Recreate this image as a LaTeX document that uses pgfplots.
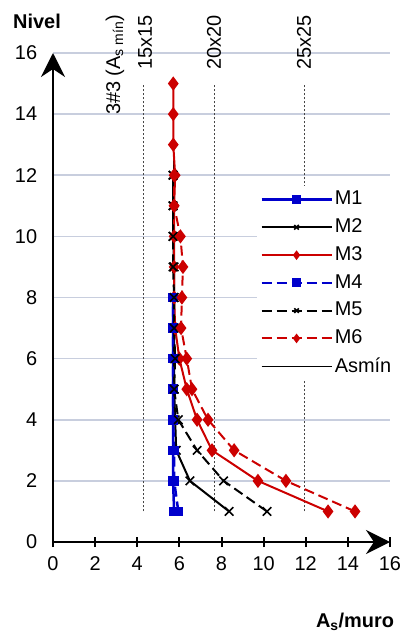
\documentclass[border=0pt]{standalone}
\usepackage{fontspec}
\setmainfont{Liberation Sans}
\usepackage{pgfplots}
\pgfplotsset{compat=1.18}
\usetikzlibrary{arrows.meta}
\definecolor{mblue}{RGB}{0,0,204}
\definecolor{mred}{RGB}{204,0,0}
\definecolor{gridc}{RGB}{200,206,222}
\definecolor{refc}{RGB}{70,70,70}
\begin{document}
\fontsize{20}{23}\selectfont
\begin{tikzpicture}
\path[use as bounding box] (-53bp,-99bp) rectangle (351bp,542bp);
\begin{axis}[
  at={(0,0)}, anchor=south west,
  scale only axis, width=337bp, height=489bp,
  xmin=0, xmax=16, ymin=0, ymax=16,
  xtick={0,2,...,16}, ytick={0,2,...,16},
  axis x line=bottom, axis y line=left,
  axis line style={line width=2.5bp,-{Stealth[length=24bp,width=24bp,inset=8bp]}},
  xtick align=center, major tick length=10bp,
  xtick style={line width=2bp,black},
  ytick style={draw=none},
  ymajorgrids, grid style={gridc,line width=1.5bp},
  tick label style={font=\fontsize{20}{23}\selectfont},
  yticklabel style={xshift=-4bp},
  xticklabel style={yshift=-3bp},
  /pgf/number format/assume math mode=true,
  clip=false,
  legend style={at={(axis cs:9.69,11.65)}, anchor=north west, fill=white, draw=none,
    font=\fontsize{20}{23}\selectfont, row sep=7bp, inner sep=3bp},
  legend cell align=left,
  legend image code/.code={\draw[mark repeat=2,mark phase=2,#1,mark size=3.2bp] plot coordinates {(0bp,0bp)(35bp,0bp)(70bp,0bp)};},
]
% Asmin (behind)
\addplot[black, line width=0.8bp, forget plot] coordinates {(5.7,1)(5.7,15)};
% reference dashed lines
\addplot[refc, line width=0.8bp, dash pattern=on 2bp off 2bp, forget plot] coordinates {(4.27,1)(4.27,15)};
\addplot[refc, line width=0.8bp, dash pattern=on 2bp off 2bp, forget plot] coordinates {(7.64,1)(7.64,15)};
\addplot[refc, line width=0.8bp, dash pattern=on 2bp off 2bp, forget plot] coordinates {(11.92,1)(11.92,15)};

\addplot[mblue, line width=2.5bp, mark=square*, mark size=3.5bp, mark options={solid}] coordinates {
 (5.75,1)(5.7,2)(5.7,3)(5.7,4)(5.7,5)(5.7,6)(5.7,7)(5.7,8)};
\addlegendentry{M1}
\addplot[black, line width=2bp, mark=x, mark size=6bp, mark options={solid,line width=1.6bp}] coordinates {
 (8.36,1)(6.5,2)(5.85,3)(5.8,4)(5.75,5)(5.75,6)(5.75,7)(5.75,8)(5.75,9)(5.7,10)(5.7,11)(5.7,12)};
\addlegendentry{M2}
\addplot[mred, line width=2bp, mark=diamond*, mark size=5.5bp, mark options={solid}] coordinates {
 (13.06,1)(9.73,2)(7.55,3)(6.84,4)(6.35,5)(6.0,6)(5.8,7)(5.75,8)(5.75,9)(5.75,10)(5.75,11)(5.8,12)(5.71,13)(5.71,14)(5.71,15)};
\addlegendentry{M3}
\addplot[mblue, line width=2.5bp, dash pattern=on 10bp off 5bp, mark=square*, mark size=3.5bp, mark options={solid}] coordinates {
 (5.95,1)(5.75,2)(5.75,3)(5.7,4)(5.7,5)(5.7,6)(5.7,7)(5.7,8)};
\addlegendentry{M4}
\addplot[black, line width=2bp, dash pattern=on 10bp off 5bp, mark=x, mark size=6bp, mark options={solid,line width=1.6bp}] coordinates {
 (10.16,1)(8.1,2)(6.84,3)(5.95,4)(5.75,5)(5.8,6)(5.75,7)(5.75,8)(5.7,9)(5.7,10)(5.7,11)(5.7,12)};
\addlegendentry{M5}
\addplot[mred, line width=2bp, dash pattern=on 10bp off 5bp, mark=diamond*, mark size=5.5bp, mark options={solid}] coordinates {
 (14.34,1)(11.06,2)(8.6,3)(7.36,4)(6.6,5)(6.35,6)(6.08,7)(6.12,8)(6.17,9)(6.05,10)(5.75,11)(5.75,12)};
\addlegendentry{M6}
\addlegendimage{black, line width=0.8bp}
\addlegendentry{Asmín}

\node[rotate=90, anchor=east, inner sep=0pt] at (axis cs:2.94,17.25) {3\#3 (A\textsubscript{s mín})};
\node[rotate=90, anchor=east, inner sep=0pt] at (axis cs:4.37,17.25) {15x15};
\node[rotate=90, anchor=east, inner sep=0pt] at (axis cs:7.64,17.25) {20x20};
\node[rotate=90, anchor=east, inner sep=0pt] at (axis cs:11.92,17.25) {25x25};
\node[font=\bfseries] at (axis cs:-0.76,17.02) {Nivel};
\node[font=\bfseries] at (axis cs:14.34,-2.62) {A\textsubscript{s}/muro};
\end{axis}
\end{tikzpicture}
\end{document}
